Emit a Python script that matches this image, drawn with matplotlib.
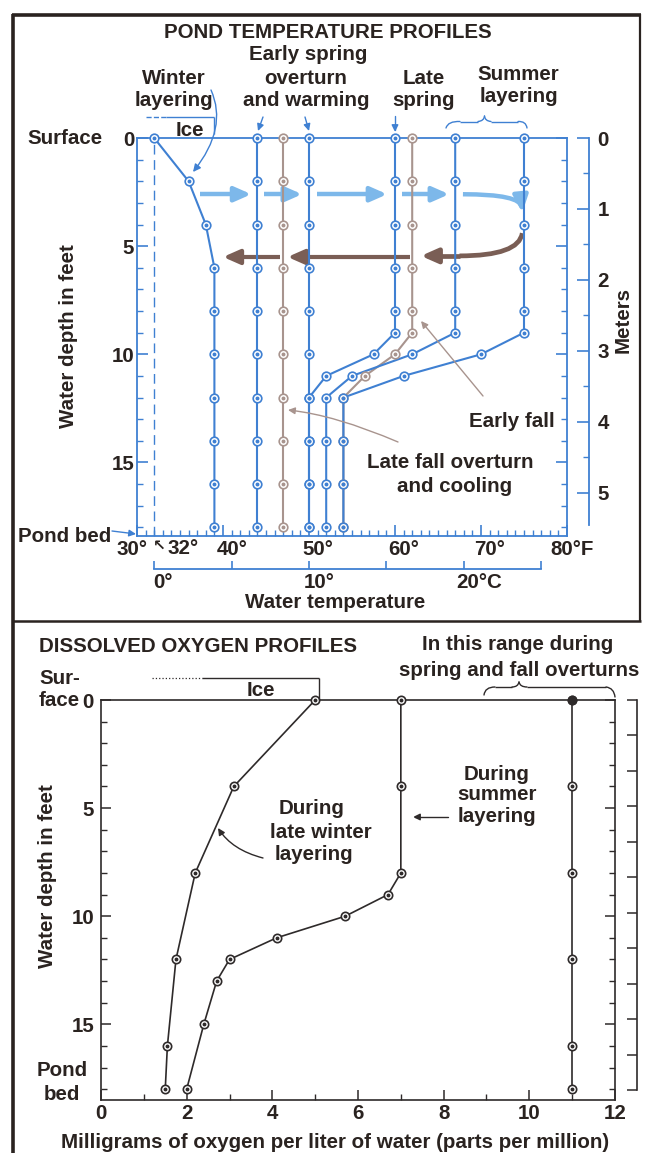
import numpy as np
import matplotlib
matplotlib.use("Agg")
import matplotlib.pyplot as plt
from matplotlib.lines import Line2D
from matplotlib.patches import FancyArrowPatch
from matplotlib.path import Path
from matplotlib.transforms import ScaledTranslation

W, H = 645, 1153
plt.rcParams["font.family"] = ["Liberation Sans", "DejaVu Sans"]
plt.rcParams["font.weight"] = "bold"
FS = 14.8

INK = "#2a2320"
BLUE = "#3f80d2"
LBLUE = "#7db8ea"
GREY = "#a8948e"
BROWN = "#7a5e55"
DARK = "#2e2a2a"

# pond temperature profiles: deg F against depth in feet
depth_2ft = [0, 2, 4, 6, 8, 10, 12, 14, 16, 18]
depth_thermo = [0, 2, 4, 6, 8, 9, 10, 11, 12, 14, 16, 18]
winter_f = [32, 36, 38, 39, 39, 39, 39, 39, 39, 39]
early_spring_f = [44, 44, 44, 44, 44, 44, 44, 44, 44, 44]
warming_f = [50, 50, 50, 50, 50, 50, 50, 50, 50, 50]
late_fall_f = [47, 47, 47, 47, 47, 47, 47, 47, 47, 47]
late_spring_f = [60, 60, 60, 60, 60, 60, 57.5, 52, 50, 50, 50, 50]
early_fall_f = [62, 62, 62, 62, 62, 62, 60, 56.5, 54, 54, 54, 54]
summer_warm_f = [67, 67, 67, 67, 67, 67, 62, 55, 52, 52, 52, 52]
summer_hot_f = [75, 75, 75, 75, 75, 75, 70, 61, 54, 54, 54, 54]

temp_ticks = [30, 40, 50, 60, 70, 80]
temp_labels = ["30°", "40°", "50°", "60°", "70°", "80°F"]
temp_label_dx = [-5, 9, 9, 9, 9, 5]
celsius_ticks = [0, 5, 10, 15, 20, 25]
celsius_labels = ["0°", "", "10°", "", "20°C", ""]
celsius_label_dx = [9, 0, 10, 0, 15, 0]
depth_ticks = [0, 5, 10, 15]
meter_ticks = [0, 1, 2, 3, 4, 5]

# dissolved oxygen profiles: mg/L against depth in feet
do_winter_depth = [0, 4, 8, 12, 16, 18]
do_winter = [5.0, 3.1, 2.2, 1.75, 1.55, 1.5]
do_summer_depth = [0, 4, 8, 9, 10, 11, 12, 13, 15, 18]
do_summer = [7.0, 7.0, 7.0, 6.7, 5.7, 4.1, 3.0, 2.7, 2.4, 2.0]
do_overturn_depth = [0, 4, 8, 12, 16, 18]
do_overturn = [11.0, 11.0, 11.0, 11.0, 11.0, 11.0]
do_ticks = [0, 2, 4, 6, 8, 10, 12]


def rect(l, t, r, b):
    return [l / W, 1 - b / H, (r - l) / W, (b - t) / H]


def fp(x, y):
    return x / W, 1 - y / H


def label(fig, x, y, s, ha="center", rot=0, size=FS):
    fig.text(x / W, 1 - y / H, s, ha=ha, va="center", fontsize=size, color=INK,
             fontweight="bold", rotation=rot)


def fig_line(fig, xs, ys, color=INK, lw=1.0, ls="-"):
    fig.add_artist(Line2D([x / W for x in xs], [1 - y / H for y in ys], color=color,
                          lw=lw, ls=ls, transform=fig.transFigure, solid_capstyle="butt"))


def fig_curve(fig, pts, color, lw=1.0, head=True, ms=10):
    verts = [fp(*p) for p in pts]
    codes = [Path.MOVETO] + [Path.CURVE3] * (len(pts) - 1) if len(pts) == 3 else \
        [Path.MOVETO] + [Path.LINETO] * (len(pts) - 1)
    style = "-|>,head_length=0.45,head_width=0.22" if head else "-"
    fig.add_artist(FancyArrowPatch(path=Path(verts, codes), arrowstyle=style, color=color,
                                   lw=lw, mutation_scale=ms, transform=fig.transFigure))


def data_arrow(ax, pts, color, lw, head=True, ms=20):
    codes = [Path.MOVETO] + [Path.CURVE3] * (len(pts) - 1) if len(pts) == 3 else \
        [Path.MOVETO] + [Path.LINETO] * (len(pts) - 1)
    style = "-|>,head_length=0.5,head_width=0.22" if head else "-"
    ax.add_patch(FancyArrowPatch(path=Path(pts, codes), arrowstyle=style, color=color, lw=lw,
                                 mutation_scale=ms, transform=ax.transData, zorder=2,
                                 clip_on=False, capstyle="butt"))


def profile(ax, xs, ys, color, lw=1.5, ms=6.2, filled_first=False):
    ax.plot(xs, ys, color=color, lw=lw, zorder=3, clip_on=False)
    ax.plot(xs, ys, "o", ms=ms, mfc="white", mec=color, mew=1.2, zorder=4, clip_on=False)
    ax.plot(xs, ys, "o", ms=1.8, color=color, zorder=5, clip_on=False)
    if filled_first:
        ax.plot(xs[:1], ys[:1], "o", ms=ms, color=color, zorder=6, clip_on=False)


def shift_labels(fig, labels, dxs):
    for lab, dx in zip(labels, dxs):
        lab.set_transform(lab.get_transform() + ScaledTranslation(dx / 100, 0, fig.dpi_scale_trans))


fig = plt.figure(figsize=(W / 100, H / 100), dpi=100)

# ---------------- frame ----------------
fig_line(fig, [12, 641], [15, 15], INK, 2.6)
fig_line(fig, [13, 13], [14, 1153], INK, 2.6)
fig_line(fig, [640, 640], [14, 621], INK, 1.6)
fig_line(fig, [13, 641], [621, 621], INK, 1.8)

# ---------------- temperature panel ----------------
ax1 = fig.add_axes(rect(137, 138, 567, 536))
ax1.set_xlim(30, 80)
ax1.set_ylim(18.4, 0)
for s in ax1.spines.values():
    s.set_color(BLUE)
    s.set_linewidth(1.3)
ax1.set_xticks(temp_ticks)
ax1.set_xticklabels(temp_labels)
ax1.set_xticks(np.arange(31, 80, 1), minor=True)
ax1.set_yticks(depth_ticks)
ax1.set_yticklabels([str(d) for d in depth_ticks])
ax1.set_yticks(np.arange(1, 19, 1), minor=True)
ax1.tick_params(which="both", direction="in", color=BLUE, labelcolor=INK, labelsize=FS,
                right=True, top=False)
ax1.tick_params(which="major", length=8, width=1.2)
ax1.tick_params(which="minor", length=4, width=1.0)
ax1.tick_params(axis="y", pad=2)
ax1.tick_params(axis="x", pad=3)
shift_labels(fig, ax1.get_xticklabels(), temp_label_dx)

ax1.axvline(32, color=BLUE, lw=1.0, ls=(0, (7, 4)), zorder=1)

profile(ax1, late_fall_f, depth_2ft, GREY)
profile(ax1, early_fall_f, depth_thermo, GREY)
profile(ax1, winter_f, depth_2ft, BLUE)
profile(ax1, early_spring_f, depth_2ft, BLUE)
profile(ax1, warming_f, depth_2ft, BLUE)
profile(ax1, late_spring_f, depth_thermo, BLUE)
profile(ax1, summer_warm_f, depth_thermo, BLUE)
profile(ax1, summer_hot_f, depth_thermo, BLUE)

# warming (blue) and cooling (brown) arrows
for x0, x1 in [(37.3, 43.3), (44.8, 49.2), (50.9, 59.1), (60.8, 66.3)]:
    data_arrow(ax1, [(x0, 2.6), (x1, 2.6)], LBLUE, 3.2)
data_arrow(ax1, [(67.9, 2.6), (74.6, 2.6), (74.8, 3.45)], LBLUE, 3.2)
data_arrow(ax1, [(74.8, 4.4), (74.4, 5.45), (67.5, 5.45)], BROWN, 3.4, head=False)
data_arrow(ax1, [(67.6, 5.45), (63.0, 5.45)], BROWN, 3.4)
data_arrow(ax1, [(61.7, 5.5), (47.5, 5.5)], BROWN, 3.0)
data_arrow(ax1, [(46.6, 5.5), (40.0, 5.5)], BROWN, 3.0)

sec = ax1.secondary_xaxis(-0.083, functions=(lambda f: (np.asarray(f) - 32) * 5 / 9,
                                              lambda c: np.asarray(c) * 9 / 5 + 32))
sec.set_xticks(celsius_ticks)
sec.set_xticklabels(celsius_labels)
sec.spines["bottom"].set_bounds(0, 25)
sec.spines["bottom"].set_color(BLUE)
sec.spines["bottom"].set_linewidth(1.3)
sec.tick_params(direction="in", length=6, width=1.2, color=BLUE, labelcolor=INK,
                labelsize=FS, pad=3)
shift_labels(fig, sec.get_xticklabels(), celsius_label_dx)

secm = ax1.secondary_yaxis(1.051, functions=(lambda ft: np.asarray(ft) * 0.3048,
                                              lambda m: np.asarray(m) / 0.3048))
secm.set_yticks(meter_ticks)
secm.set_yticklabels([str(m) for m in meter_ticks])
secm.set_yticks(np.arange(0.5, 5.0, 1.0), minor=True)
secm.spines["right"].set_bounds(0, 5.45)
secm.spines["right"].set_color(BLUE)
secm.spines["right"].set_linewidth(1.3)
secm.tick_params(which="both", direction="in", color=BLUE, labelcolor=INK, labelsize=FS, pad=6)
secm.tick_params(which="major", length=9, width=1.2)
secm.tick_params(which="minor", length=4, width=1.0)

# panel texts
label(fig, 328, 32, "POND TEMPERATURE PROFILES")
label(fig, 308, 55, "Early spring")
label(fig, 174, 78, "Winter")
label(fig, 174, 100, "layering")
label(fig, 306, 78, "overturn")
label(fig, 306, 100, "and warming")
label(fig, 424, 78, "Late")
label(fig, 424, 100, "spring")
label(fig, 518, 75, "Summer")
label(fig, 519, 97, "layering")
label(fig, 103, 139, "Surface", ha="right")
label(fig, 190, 130, "Ice")
label(fig, 183, 548, "32°")
fig.text(159 / W, 1 - 545 / H, "\u2196", ha="center", va="center", fontsize=11,
         color=INK, family="DejaVu Sans")
label(fig, 18, 537, "Pond bed", ha="left")
label(fig, 68, 336, "Water depth in feet", rot=90)
label(fig, 623, 320, "Meters", rot=90)
label(fig, 335, 603, "Water temperature")
label(fig, 555, 422, "Early fall", ha="right")
label(fig, 450, 462, "Late fall overturn")
label(fig, 455, 486, "and cooling")

# ice marker, brace and pointers
fig_line(fig, [146, 166], [117, 117], BLUE, 1.0, "--")
fig_line(fig, [166, 214], [117, 117], BLUE, 1.0)
fig_line(fig, [214, 214], [117, 134], BLUE, 1.0)
fig_curve(fig, [(446, 128), (448, 121), (460, 121.5)], BLUE, 1.0, head=False)
fig_line(fig, [460, 478], [121.5, 121.5], BLUE, 1.0)
fig_curve(fig, [(478, 121.5), (484, 121), (484.5, 116)], BLUE, 1.0, head=False)
fig_curve(fig, [(484.5, 116), (485, 121), (491, 121.5)], BLUE, 1.0, head=False)
fig_line(fig, [491, 518], [121.5, 121.5], BLUE, 1.0)
fig_curve(fig, [(518, 121.5), (526, 121), (527, 128)], BLUE, 1.0, head=False)
fig_curve(fig, [(211, 90), (228, 128), (193, 172)], BLUE, 1.0, ms=10)
fig_curve(fig, [(263, 117), (258, 131)], BLUE, 1.0, ms=9)
fig_curve(fig, [(305, 117), (309, 131)], BLUE, 1.0, ms=9)
fig_curve(fig, [(395, 116), (395, 132)], BLUE, 1.0, ms=9)
fig_curve(fig, [(112, 531), (136, 534)], BLUE, 1.0, ms=9)
fig_curve(fig, [(483, 396), (445, 350), (421, 321)], GREY, 1.0, ms=9)
fig_curve(fig, [(398, 442), (335, 415), (288, 410)], GREY, 1.0, ms=9)

# ---------------- dissolved oxygen panel ----------------
ax2 = fig.add_axes(rect(101, 700, 615, 1100))
ax2.set_xlim(0, 12)
ax2.set_ylim(18.5, 0)
for s in ax2.spines.values():
    s.set_color(DARK)
    s.set_linewidth(1.2)
ax2.set_xticks(do_ticks)
ax2.set_xticklabels([str(t) for t in do_ticks])
ax2.set_xticks(np.arange(1, 12, 2), minor=True)
ax2.set_yticks(depth_ticks)
ax2.set_yticklabels([str(d) for d in depth_ticks])
ax2.set_yticks(np.arange(1, 19, 1), minor=True)
ax2.tick_params(which="both", direction="in", color=DARK, labelcolor=INK, labelsize=FS,
                right=True, top=False)
ax2.tick_params(which="major", length=7, width=1.1)
ax2.tick_params(which="minor", length=4, width=1.0)
ax2.tick_params(axis="y", pad=5)
ax2.tick_params(axis="x", pad=3)

profile(ax2, do_winter, do_winter_depth, DARK, lw=1.2, ms=6)
profile(ax2, do_summer, do_summer_depth, DARK, lw=1.2, ms=6)
profile(ax2, do_overturn, do_overturn_depth, DARK, lw=1.2, ms=6, filled_first=True)

secm2 = ax2.secondary_yaxis(1.043, functions=(lambda ft: np.asarray(ft) * 0.3048,
                                               lambda m: np.asarray(m) / 0.3048))
secm2.set_yticks(np.arange(0, 5.6, 0.5))
secm2.set_yticklabels([])
secm2.spines["right"].set_bounds(0, 5.5)
secm2.spines["right"].set_color(DARK)
secm2.spines["right"].set_linewidth(1.2)
secm2.tick_params(direction="in", length=7, width=1.1, color=DARK)

label(fig, 39, 647, "DISSOLVED OXYGEN PROFILES", ha="left")
label(fig, 518, 644, "In this range during")
label(fig, 519, 670, "spring and fall overturns")
label(fig, 39, 678, "Sur-", ha="left")
label(fig, 39, 700, "face", ha="left")
label(fig, 497, 775, "During")
label(fig, 497, 795, "summer")
label(fig, 497, 817, "layering")
label(fig, 312, 808, "During")
label(fig, 321, 833, "late winter")
label(fig, 314, 855, "layering")
label(fig, 62, 1070, "Pond")
label(fig, 62, 1095, "bed")
label(fig, 48, 876, "Water depth in feet", rot=90)
label(fig, 335, 1142, "Milligrams of oxygen per liter of water (parts per million)")
label(fig, 261, 690, "Ice")

fig_line(fig, [152, 202], [678, 678], DARK, 0.9, ":")
fig_line(fig, [202, 319], [678, 678], DARK, 1.0)
fig_line(fig, [319, 319], [678, 700], DARK, 1.0)
fig_curve(fig, [(484, 695), (485, 687), (495, 687)], DARK, 1.0, head=False)
fig_line(fig, [495, 512], [687, 687], DARK, 1.0)
fig_curve(fig, [(512, 687), (518, 687), (519, 682)], DARK, 1.0, head=False)
fig_curve(fig, [(519, 682), (520, 687), (527, 687)], DARK, 1.0, head=False)
fig_line(fig, [527, 606], [687, 687], DARK, 1.0)
fig_curve(fig, [(606, 687), (614, 688), (615, 697)], DARK, 1.0, head=False)
fig_curve(fig, [(448, 817), (413, 817)], DARK, 1.0, ms=9)
fig_curve(fig, [(263, 858), (232, 850), (218, 828)], DARK, 1.0, ms=9)

fig.savefig("out.png", dpi=100)
